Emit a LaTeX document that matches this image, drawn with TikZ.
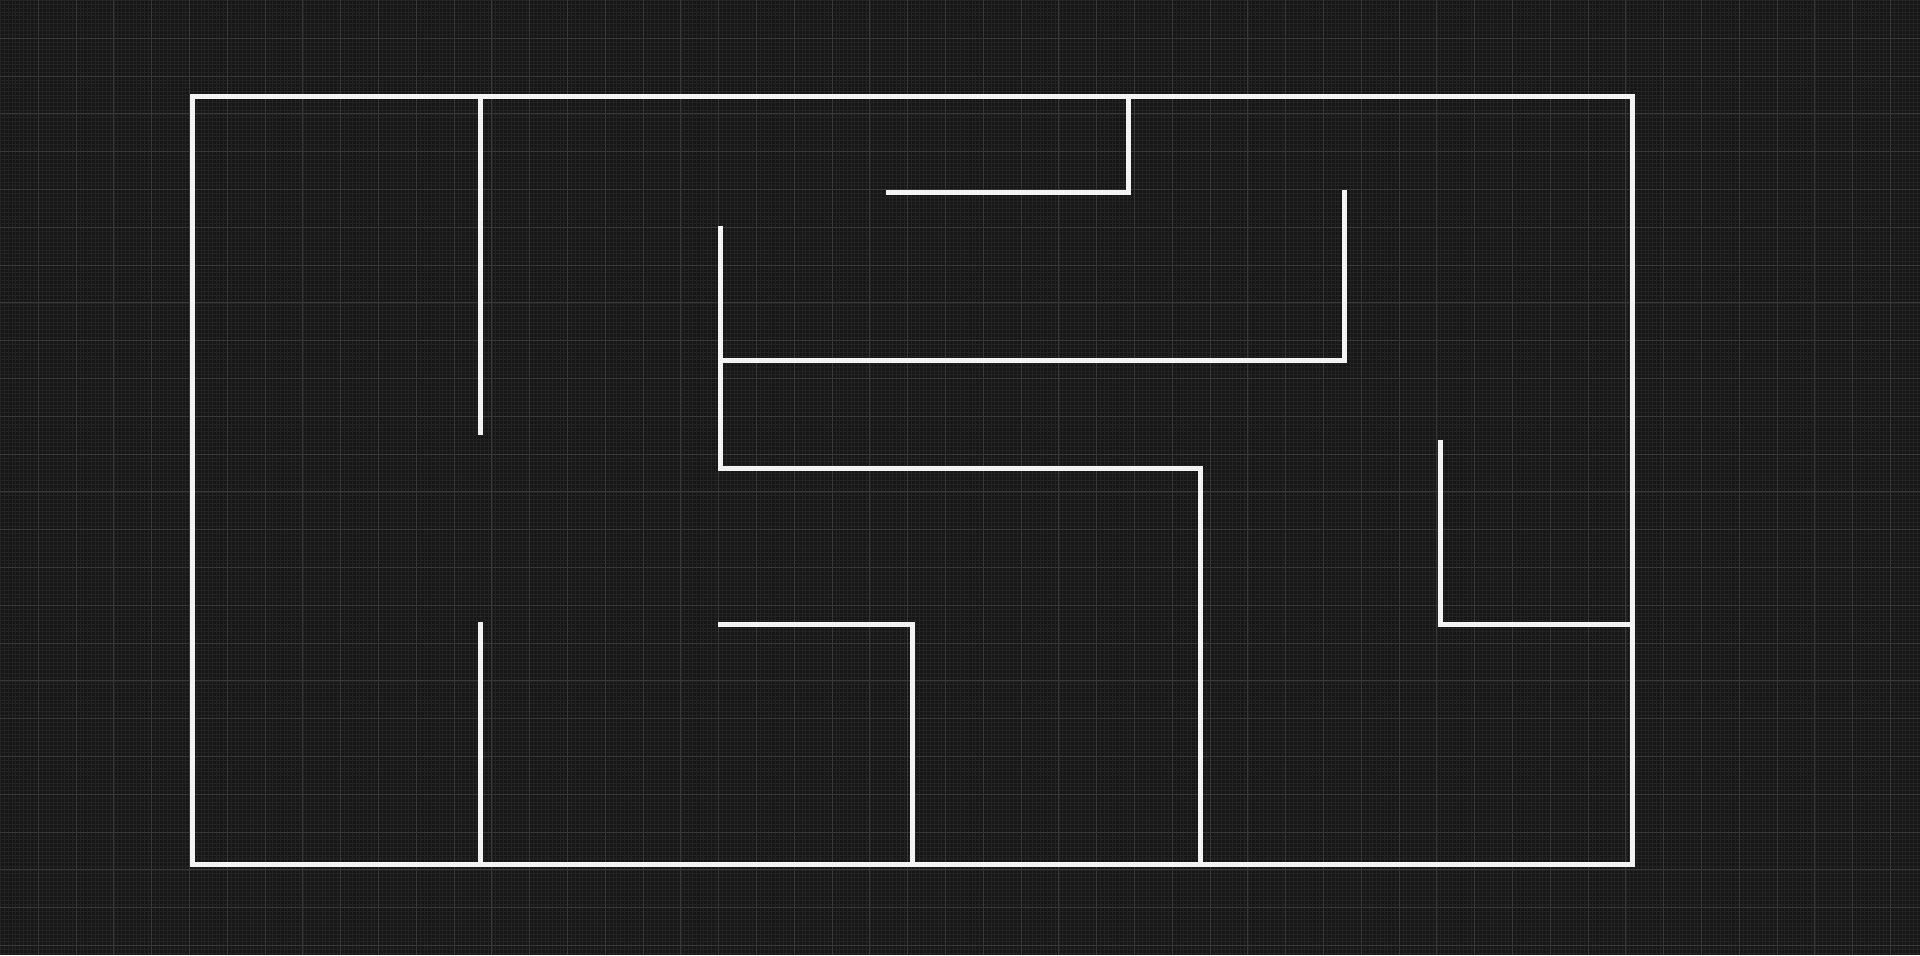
\documentclass[tikz,border=0pt]{standalone}
\definecolor{bgc}{HTML}{161616}
\definecolor{minorc}{HTML}{232323}
\definecolor{majorc}{HTML}{383838}
\definecolor{wallc}{HTML}{F3F3F3}
\tikzset{
  wall/.style={draw=wallc,line width=2.5pt,line cap=butt,line join=miter},
  minorline/.style={draw=minorc,line width=0.3pt},
  majorline/.style={draw=majorc,line width=0.55pt}
}
\begin{document}
\begin{tikzpicture}[x=0.5pt,y=-0.5pt]
\fill[bgc] (0,0) rectangle (1920,955);
\useasboundingbox (0,0) rectangle (1920,955);
% minor grid
\foreach \i in {0,...,508} {\draw[minorline] ({0.5+3.78*\i},0) -- ++(0,955);}
\foreach \i in {0,...,252} {\draw[minorline] (0,{0.5+3.78*\i}) -- ++(1920,0);}
% major grid
\foreach \i in {1,...,50} {\draw[majorline] ({0.5+37.8*\i},0) -- ++(0,955);}
\foreach \i in {1,...,25} {\draw[majorline] (0,{0.5+37.8*\i}) -- ++(1920,0);}
% maze walls
\coordinate (tl) at (192.5,96.5);
\coordinate (br) at (1632.5,864.5);
\draw[wall] (tl) rectangle (br);
\coordinate (a1) at (480.5,96.5);   \coordinate (a2) at (480.5,434.7);
\draw[wall] (a1) -- (a2);
\coordinate (b1) at (480.5,622);    \coordinate (b2) at (480.5,864.5);
\draw[wall] (b1) -- (b2);
\coordinate (c1) at (886,192.5);    \coordinate (c2) at (1128.5,192.5); \coordinate (c3) at (1128.5,96.5);
\draw[wall] (c1) -- (c2) -- (c3);
\coordinate (d1) at (720.5,225.7);  \coordinate (d2) at (720.5,468.2);
\coordinate (d3) at (1200.5,468.2); \coordinate (d4) at (1200.5,864.5);
\draw[wall] (d1) -- (d2) -- (d3) -- (d4);
\coordinate (e1) at (720.5,360.5);  \coordinate (e2) at (1344.5,360.5); \coordinate (e3) at (1344.5,190);
\draw[wall] (e1) -- (e2) -- (e3);
\coordinate (f1) at (718,624.5);    \coordinate (f2) at (912.5,624.5);  \coordinate (f3) at (912.5,864.5);
\draw[wall] (f1) -- (f2) -- (f3);
\coordinate (g1) at (1440.5,440);   \coordinate (g2) at (1440.5,624.5); \coordinate (g3) at (1632.5,624.5);
\draw[wall] (g1) -- (g2) -- (g3);
\end{tikzpicture}
\end{document}
